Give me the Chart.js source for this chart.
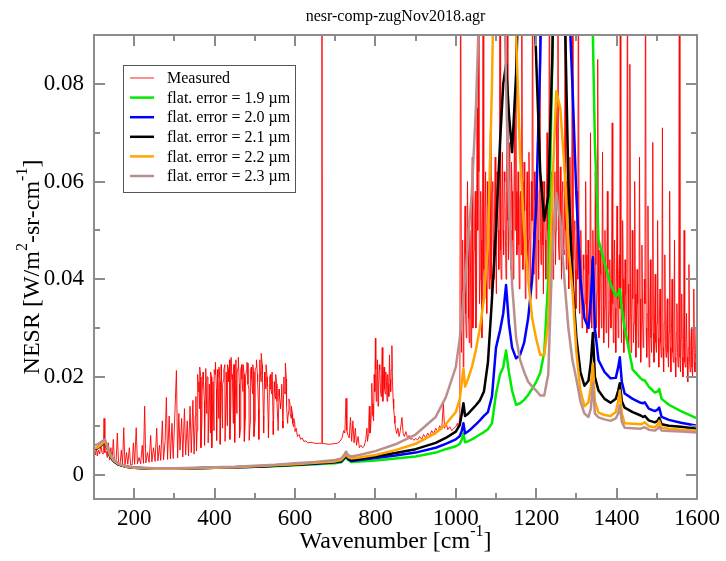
<!DOCTYPE html>
<html>
<head>
<meta charset="utf-8">
<script src="https://cdn.jsdelivr.net/npm/chart.js@4.4.1/dist/chart.umd.min.js"></script>
<style>
  html, body { margin: 0; padding: 0; background: #ffffff; }
  #wrap { width: 726px; height: 561px; }
</style>
</head>
<body>
<div id="wrap"><canvas id="c" width="726" height="561"></canvas></div>
<script>
// ---------------- DATA ----------------
const chartTitle = 'nesr-comp-zugNov2018.agr';
const seriesLabels = ['Measured', 'flat. error = 1.9 µm', 'flat. error = 2.0 µm', 'flat. error = 2.1 µm', 'flat. error = 2.2 µm', 'flat. error = 2.3 µm'];

const xMajorTicks = [200, 400, 600, 800, 1000, 1200, 1400, 1600];
const xTickLabels = ['200', '400', '600', '800', '1000', '1200', '1400', '1600'];
const xMinorTicks = [300, 500, 700, 900, 1100, 1300, 1500];
const yMajorTicks = [0, 0.02, 0.04, 0.06, 0.08];
const yTickLabels = ['0', '0.02', '0.04', '0.06', '0.08'];
const yMinorTicks = [0.01, 0.03, 0.05, 0.07];

// Measured NESR: [wavenumber cm-1, NESR]
const measured = [
[100,0.0045],[103,0.004],[106,0.0055],[108,0.0038],[111,0.005],[114,0.0042],[117,0.006],[120,0.0045],[123,0.0042],[125,0.0115],[127,0.0045],[130,0.0048],[133,0.0035],[136,0.0065],[139,0.003],[142,0.0055],[145,0.0028],[148,0.0072],[151,0.0027],[155,0.0025],[158,0.0085],[161,0.0024],[165,0.0022],[168,0.005],[171,0.0021],[174,0.0096],[177,0.002],[181,0.0045],[184,0.0021],[188,0.0055],[191,0.002],[195,0.002],[198,0.0065],[201,0.0021],[205,0.0096],[208,0.0022],[212,0.0035],[216,0.0022],[220,0.006],[223,0.0023],[226,0.014],[229,0.0024],[233,0.0045],[237,0.0025],[241,0.008],[244,0.0026],[248,0.0055],[252,0.0027],[256,0.0095],[259,0.0028],[263,0.006],[266,0.0029],[270,0.011],[273,0.003],[277,0.007],[280,0.0158],[283,0.0031],[287,0.012],[290,0.0032],[294,0.0105],[297,0.0033],[301,0.012],[305,0.0213],[308,0.0034],[311,0.0125],[314,0.005],[318,0.0115],[321,0.0036],[325,0.0135],[328,0.004],[332,0.011],[335,0.0038],[339,0.014],[342,0.0045],[346,0.0152],[349,0.0042],
[352,0.012],[355,0.0048],[358,0.0205],[361,0.019],[363,0.022],[366,0.0055],[369,0.017],[372,0.0195],[375,0.006],[378,0.0217],[381,0.02],[384,0.0065],[387,0.0185],[390,0.021],[393,0.0055],[396,0.019],[399,0.0215],[402,0.023],[405,0.007],[408,0.02],[411,0.022],[414,0.0062],[417,0.0205],[420,0.0185],[423,0.0215],[426,0.0068],[429,0.021],[432,0.0225],[435,0.019],[438,0.0072],[441,0.024],[444,0.0205],[447,0.0225],[450,0.0066],[453,0.0235],[456,0.021],[459,0.024],[462,0.0075],[465,0.0215],[468,0.0195],[471,0.0225],[474,0.0068],[477,0.02],[480,0.023],[483,0.0185],[486,0.007],[489,0.0215],[492,0.0195],[495,0.0225],[498,0.0078],[501,0.0215],[504,0.0235],[507,0.019],[510,0.0072],[513,0.022],[516,0.0248],[519,0.0205],[522,0.0085],[525,0.019],[528,0.0225],[531,0.018],[534,0.0075],[537,0.02],[540,0.0175],[543,0.021],[546,0.0082],[549,0.017],[552,0.0205],[555,0.015],[558,0.009],[561,0.016],[564,0.0135],[567,0.0185],[570,0.0095],[573,0.017],[576,0.0228],[579,0.014],[582,0.0115],[585,0.0155],[588,0.0125],[591,0.014],[594,0.0105],[597,0.0115],[600,0.0088],[603,0.0095],[606,0.0078],[610,0.0082],[614,0.0072],[618,0.0075],[622,0.0068],[627,0.0069],[632,0.0065],[640,0.0066],[650,0.0064],[660,0.0064],[666,0.0064],[667,0.12],[668,0.0064],
[675,0.0063],[685,0.0062],[695,0.0063],[705,0.0064],[712,0.0068],[717,0.0075],[721,0.009],[724,0.0085],[727,0.0156],[729,0.009],[732,0.008],[735,0.0075],[738,0.0117],[741,0.0068],[744,0.011],[747,0.0065],[750,0.0095],[753,0.006],[757,0.0078],[760,0.0055],[764,0.006],[768,0.0055],[772,0.0058],[776,0.0072],[779,0.0095],[782,0.008],[785,0.014],[788,0.009],[791,0.0187],[794,0.012],[797,0.0205],[800,0.0279],[802,0.015],[805,0.0235],[808,0.018],[811,0.0215],[814,0.016],[817,0.026],[820,0.0195],[823,0.0175],[826,0.021],[829,0.015],[832,0.0185],[835,0.0245],[838,0.017],[841,0.0264],[844,0.0155],[847,0.012],[850,0.0095],[853,0.0084],[856,0.0095],[859,0.0078],[862,0.009],[866,0.0117],[869,0.0085],[872,0.0078],[876,0.0088],[880,0.0075],[884,0.008],[888,0.0072],[892,0.0074],[896,0.007],
[900,0.0074],[905,0.0071],[910,0.0078],[915,0.0072],[920,0.0082],[925,0.0075],[930,0.0085],[935,0.0078],[940,0.009],[945,0.0083],[950,0.0095],[955,0.0088],[960,0.01],[965,0.0092],[969,0.0146],[972,0.0095],[976,0.0105],[980,0.0092],[985,0.0098],[990,0.009],[995,0.0095],[1000,0.0098],[1004,0.0105],[1007,0.0096],
[1010,0.012],[1012,0.12],[1014,0.025],[1017,0.048],[1020,0.03],[1023,0.055],[1026,0.028],[1029,0.06],[1032,0.032],[1035,0.05],[1038,0.026],[1041,0.065],[1044,0.034],[1047,0.052],[1050,0.03],[1053,0.075],[1056,0.12],[1059,0.035],[1062,0.058],[1065,0.028],[1068,0.12],[1071,0.036],[1074,0.062],[1077,0.033],[1080,0.055],[1083,0.038],[1086,0.07],[1089,0.035],[1092,0.06],[1095,0.04],[1098,0.065],[1101,0.037],[1104,0.058],[1107,0.042],[1110,0.12],[1113,0.04],[1116,0.066],[1119,0.045],[1122,0.06],[1125,0.04],[1128,0.12],[1131,0.044],[1134,0.068],[1137,0.042],[1140,0.058],[1143,0.04],[1146,0.072],[1149,0.12],[1152,0.045],[1155,0.062],[1158,0.038],[1161,0.058],[1164,0.12],[1167,0.042],[1170,0.064],[1173,0.036],[1176,0.055],[1179,0.04],[1182,0.066],[1185,0.038],[1188,0.06],[1191,0.12],[1194,0.041],[1197,0.056],[1200,0.036],[1203,0.068],[1206,0.04],[1209,0.12],[1212,0.043],[1215,0.06],[1218,0.037],[1221,0.054],[1224,0.04],[1227,0.07],[1230,0.042],[1233,0.12],[1236,0.045],[1239,0.062],[1242,0.04],[1245,0.058],[1248,0.043],[1251,0.075],[1254,0.12],[1257,0.044],[1260,0.063],[1263,0.04],[1266,0.06],[1269,0.045],[1272,0.12],[1275,0.042],[1278,0.056],[1281,0.038],[1284,0.065],[1287,0.04],[1290,0.12],[1293,0.036],[1296,0.052],[1299,0.034],[1302,0.058],[1305,0.12],[1308,0.033],
[1311,0.05],[1314,0.03],[1317,0.045],[1320,0.032],[1323,0.06],[1326,0.029],[1329,0.048],[1332,0.031],[1335,0.07],[1338,0.03],[1341,0.05],[1344,0.028],[1347,0.062],[1350,0.03],[1353,0.085],[1356,0.028],[1359,0.046],[1362,0.03],[1365,0.066],[1368,0.027],[1371,0.05],[1374,0.029],[1377,0.058],[1380,0.026],[1383,0.044],[1386,0.03],[1389,0.072],[1392,0.027],[1395,0.048],[1398,0.025],[1401,0.055],[1404,0.028],[1407,0.045],[1409,0.12],[1412,0.027],[1415,0.052],[1418,0.025],[1421,0.044],[1424,0.028],[1427,0.12],[1430,0.026],[1433,0.084],[1436,0.025],[1439,0.05],[1442,0.027],[1445,0.06],[1448,0.024],[1451,0.042],[1454,0.026],[1457,0.065],[1460,0.023],[1463,0.047],[1466,0.026],[1469,0.04],[1472,0.12],[1475,0.024],[1478,0.055],[1481,0.022],[1484,0.044],[1487,0.025],[1490,0.068],[1493,0.023],[1496,0.041],[1499,0.025],[1502,0.052],[1505,0.022],[1508,0.038],[1511,0.024],[1514,0.071],[1517,0.021],[1520,0.045],[1523,0.024],[1526,0.036],[1529,0.022],[1532,0.058],[1535,0.021],[1538,0.04],[1541,0.023],[1544,0.048],[1547,0.02],[1550,0.035],[1553,0.022],[1556,0.12],[1559,0.021],[1562,0.037],[1565,0.02],[1568,0.05],[1571,0.022],[1574,0.033],[1577,0.019],[1580,0.043],[1583,0.021],[1586,0.03],[1589,0.02],[1592,0.038],[1595,0.021],[1598,0.03],[1600,0.022]
];

// Additional measured samples read between the ones above in the dense bands
const measuredDense = [
[353.5,0.016],[356.5,0.009],[359.5,0.017],[362.5,0.0135],[365.5,0.02],[368.5,0.011],[371.5,0.021],[374.5,0.015],[377.5,0.019],[380.5,0.0125],[383.5,0.02],[386.5,0.016],[389.5,0.0085],[392.5,0.02],[395.5,0.0165],[398.5,0.009],[401.5,0.0205],[404.5,0.0175],[407.5,0.0215],[410.5,0.0115],[413.5,0.019],[416.5,0.0225],[419.5,0.0095],[422.5,0.0195],[425.5,0.0225],[428.5,0.0165],[431.5,0.01],[434.5,0.0215],[437.5,0.0235],[440.5,0.0145],[443.5,0.0195],[446.5,0.0105],[449.5,0.0225],[452.5,0.0195],[455.5,0.0125],[458.5,0.022],[461.5,0.0185],[464.5,0.0095],[467.5,0.0225],[470.5,0.017],[473.5,0.0205],[476.5,0.0115],[479.5,0.0215],[482.5,0.0228],[485.5,0.0175],[488.5,0.0105],[491.5,0.022],[494.5,0.0165],[497.5,0.021],[500.5,0.011],[503.5,0.022],[506.5,0.0205],[509.5,0.0135],[512.5,0.0235],[515.5,0.019],[518.5,0.0225],[521.5,0.012],[524.5,0.021],[527.5,0.0175],[530.5,0.02],[533.5,0.0105],[536.5,0.0185],[539.5,0.0205],[542.5,0.0165],[545.5,0.011],[548.5,0.019],[551.5,0.0155],[554.5,0.0185],[557.5,0.0105],[560.5,0.0175],[563.5,0.0145],[566.5,0.0165],[569.5,0.011],[572.5,0.02],[575.5,0.0165],[578.5,0.0195],[581.5,0.0105],[584.5,0.013],[587.5,0.0145],[590.5,0.0115],[593.5,0.0125],[596.5,0.0098],[599.5,0.0105],
[780.5,0.0068],[783.5,0.011],[786.5,0.0085],[789.5,0.0125],[792.5,0.0145],[795.5,0.011],[798.5,0.017],[801,0.0215],[803.5,0.0195],[806.5,0.014],[809.5,0.0225],[812.5,0.0175],[815.5,0.0205],[818.5,0.015],[821.5,0.022],[824.5,0.0165],[827.5,0.019],[830.5,0.0205],[833.5,0.016],[836.5,0.0195],[839.5,0.0215],[842.5,0.019],[845.5,0.0135],[848.5,0.0105],
[1015.5,0.038],[1018.5,0.022],[1021.5,0.045],[1024.5,0.033],[1027.5,0.042],[1030.5,0.05],[1033.5,0.027],[1036.5,0.044],[1039.5,0.052],[1042.5,0.03],[1045.5,0.046],[1048.5,0.058],[1051.5,0.036],[1054.5,0.05],[1057.5,0.062],[1060.5,0.04],[1063.5,0.048],[1066.5,0.055],[1069.5,0.042],[1072.5,0.052],[1075.5,0.046],[1078.5,0.06],[1081.5,0.044],[1084.5,0.052],[1087.5,0.04],[1090.5,0.058],[1093.5,0.048],[1096.5,0.055],[1099.5,0.045],[1102.5,0.062],[1105.5,0.05],[1108.5,0.056],[1111.5,0.046],[1114.5,0.054],[1117.5,0.05],[1120.5,0.062],[1123.5,0.048],[1126.5,0.058],[1129.5,0.052],[1132.5,0.06],[1135.5,0.05],[1138.5,0.064],[1141.5,0.048],[1144.5,0.055],[1147.5,0.05],[1150.5,0.058],[1153.5,0.052],[1156.5,0.047],[1159.5,0.056],[1162.5,0.045],[1165.5,0.06],[1168.5,0.05],[1171.5,0.054],[1174.5,0.046],[1177.5,0.062],[1180.5,0.048],[1183.5,0.056],[1186.5,0.045],[1189.5,0.052],[1192.5,0.05],[1195.5,0.062],[1198.5,0.046],[1201.5,0.052],[1204.5,0.048],[1207.5,0.058],[1210.5,0.05],[1213.5,0.054],[1216.5,0.047],[1219.5,0.06],[1222.5,0.048],[1225.5,0.055],[1228.5,0.05],[1231.5,0.058],[1234.5,0.052],[1237.5,0.05],[1240.5,0.056],[1243.5,0.048],[1246.5,0.062],[1249.5,0.05],[1252.5,0.055],[1255.5,0.047],[1258.5,0.056],[1261.5,0.05],[1264.5,0.058],[1267.5,0.046],[1270.5,0.054],[1273.5,0.05],[1276.5,0.06],[1279.5,0.045],[1282.5,0.052],[1285.5,0.048],[1288.5,0.056],[1291.5,0.044],[1294.5,0.05],[1297.5,0.042],[1300.5,0.048],[1303.5,0.04],[1306.5,0.046],[1309.5,0.038],
[1312.5,0.04],[1315.5,0.036],[1318.5,0.042],[1321.5,0.035],[1324.5,0.045],[1327.5,0.038],[1330.5,0.041],[1333.5,0.036],[1336.5,0.044],[1339.5,0.038],[1342.5,0.04],[1345.5,0.034],[1348.5,0.043],[1351.5,0.037],[1354.5,0.046],[1357.5,0.035],[1360.5,0.041],[1363.5,0.038],[1366.5,0.044],[1369.5,0.034],[1372.5,0.04],[1375.5,0.036],[1378.5,0.042],[1381.5,0.033],[1384.5,0.038],[1387.5,0.04],[1390.5,0.035],[1393.5,0.043],[1396.5,0.034],[1399.5,0.039],[1402.5,0.036],[1405.5,0.041],[1408,0.034],[1410.5,0.038],[1413.5,0.035],[1416.5,0.04],[1419.5,0.033],[1422.5,0.037],[1425.5,0.034],[1428.5,0.039],[1431.5,0.032],[1434.5,0.038],[1437.5,0.033],[1440.5,0.036],[1443.5,0.031],[1446.5,0.037],[1449.5,0.032],[1452.5,0.035],[1455.5,0.03],[1458.5,0.036],[1461.5,0.031],[1464.5,0.034],[1467.5,0.029],[1470.5,0.035],[1473.5,0.03],[1476.5,0.033],[1479.5,0.029],[1482.5,0.034],[1485.5,0.028],[1488.5,0.032],[1491.5,0.029],[1494.5,0.033],[1497.5,0.027],[1500.5,0.031],[1503.5,0.028],[1506.5,0.032],[1509.5,0.027],[1512.5,0.03],[1515.5,0.026],[1518.5,0.031],[1521.5,0.027],[1524.5,0.03],[1527.5,0.025],[1530.5,0.029],[1533.5,0.026],[1536.5,0.03],[1539.5,0.025],[1542.5,0.028],[1545.5,0.024],[1548.5,0.029],[1551.5,0.025],[1554.5,0.027],[1557.5,0.024],[1560.5,0.028],[1563.5,0.024],[1566.5,0.027],[1569.5,0.023],[1572.5,0.027],[1575.5,0.024],[1578.5,0.026],[1581.5,0.023],[1584.5,0.027],[1587.5,0.022],[1590.5,0.026],[1593.5,0.023],[1596.5,0.025],[1599,0.023]
];

// Simulated NESR for different flatness errors, on a shared wavenumber grid
const modelWn = [100,110,120,127,133,140,150,160,180,200,250,300,350,400,450,500,550,600,650,700,715,722,727,732,740,760,800,850,900,950,975,1000,1010,1015,1019,1023,1030,1040,1050,1060,1070,1080,1090,1100,1110,1118,1125,1132,1140,1150,1160,1170,1180,1190,1200,1210,1220,1230,1240,1250,1260,1270,1280,1290,1300,1310,1320,1330,1336,1341,1346,1355,1370,1385,1398,1404,1408,1413,1420,1440,1460,1466,1470,1480,1495,1502,1506,1512,1530,1560,1600];

const nesr19 = [0.0052,0.0055,0.0062,0.0068,0.0055,0.0038,0.0027,0.0021,0.0016,0.0014,0.0012,0.0012,0.0013,0.0014,0.0015,0.0016,0.0017,0.0019,0.0021,0.0023,0.0025,0.0031,0.0036,0.003,0.0026,0.0027,0.0029,0.0033,0.0037,0.0045,0.0052,0.0058,0.0063,0.0072,0.0084,0.0066,0.0068,0.0072,0.0077,0.0082,0.0087,0.0093,0.0105,0.0165,0.0205,0.022,0.0254,0.021,0.0172,0.0143,0.0146,0.0153,0.0163,0.0176,0.019,0.0208,0.025,0.04,0.085,0.14,0.2,0.25,0.25,0.25,0.25,0.25,0.22,0.16,0.13,0.09,0.068,0.048,0.0433,0.039,0.0365,0.037,0.038,0.034,0.03,0.0215,0.0197,0.0193,0.0193,0.018,0.0168,0.017,0.0175,0.0155,0.0143,0.013,0.0115];

const nesr20 = [0.0052,0.0055,0.0062,0.0068,0.0055,0.0038,0.0027,0.0021,0.0016,0.0014,0.0012,0.0012,0.0013,0.0014,0.0015,0.0016,0.0018,0.002,0.0022,0.0025,0.0027,0.0033,0.0038,0.0032,0.0028,0.003,0.0034,0.0039,0.0045,0.0055,0.0063,0.0072,0.0079,0.009,0.0105,0.0084,0.0088,0.0095,0.0103,0.0111,0.012,0.0128,0.016,0.026,0.0295,0.033,0.0388,0.031,0.026,0.0238,0.0245,0.027,0.032,0.04,0.055,0.085,0.13,0.25,0.25,0.25,0.25,0.15,0.1,0.08,0.057,0.04,0.032,0.03,0.036,0.0445,0.03,0.0234,0.021,0.0197,0.0198,0.022,0.024,0.019,0.0166,0.0155,0.0147,0.0146,0.0148,0.0135,0.013,0.0133,0.0137,0.0118,0.0112,0.0106,0.01];

const nesr21 = [0.0052,0.0055,0.0062,0.0068,0.0055,0.0038,0.0027,0.0021,0.0016,0.0014,0.0012,0.0012,0.0013,0.0014,0.0015,0.0016,0.0018,0.002,0.0023,0.0026,0.0028,0.0034,0.004,0.0034,0.003,0.0032,0.0037,0.0044,0.0052,0.0065,0.0075,0.0088,0.0102,0.0125,0.0146,0.012,0.0124,0.0133,0.0142,0.0152,0.017,0.023,0.036,0.05,0.068,0.08,0.084,0.074,0.066,0.082,0.11,0.15,0.15,0.11,0.085,0.062,0.052,0.057,0.085,0.13,0.15,0.1,0.06,0.04,0.028,0.021,0.0182,0.0192,0.023,0.029,0.02,0.0172,0.0155,0.0147,0.0155,0.0172,0.0187,0.015,0.0137,0.0128,0.0121,0.0118,0.012,0.0111,0.0107,0.011,0.0116,0.0103,0.01,0.0098,0.0094];

const nesr22 = [0.0053,0.0056,0.0063,0.0069,0.0056,0.0039,0.0028,0.0022,0.0016,0.0014,0.0012,0.0012,0.0013,0.0014,0.0015,0.0017,0.0019,0.0021,0.0024,0.0027,0.003,0.0036,0.0042,0.0036,0.0033,0.0035,0.004,0.005,0.0063,0.0085,0.0103,0.0128,0.0155,0.019,0.0217,0.018,0.0195,0.022,0.0255,0.03,0.036,0.047,0.08,0.13,0.2,0.22,0.22,0.2,0.14,0.09,0.065,0.05,0.04,0.032,0.0278,0.0245,0.0245,0.031,0.058,0.0785,0.075,0.063,0.047,0.038,0.025,0.0172,0.014,0.0148,0.018,0.0228,0.015,0.0127,0.0122,0.012,0.0128,0.015,0.0172,0.0125,0.0105,0.0104,0.0103,0.0105,0.0107,0.0099,0.0097,0.0102,0.011,0.0096,0.0094,0.0092,0.009];

const nesr23 = [0.006,0.0062,0.0068,0.0072,0.006,0.0042,0.003,0.0023,0.0017,0.0015,0.0013,0.0013,0.0014,0.0015,0.0016,0.0018,0.002,0.0023,0.0026,0.003,0.0033,0.004,0.0047,0.004,0.0037,0.004,0.0048,0.0062,0.0082,0.0118,0.0158,0.022,0.028,0.032,0.036,0.04,0.047,0.058,0.075,0.1,0.14,0.2,0.25,0.22,0.15,0.11,0.08,0.056,0.039,0.028,0.0235,0.021,0.019,0.018,0.0172,0.0162,0.0162,0.0205,0.045,0.0576,0.052,0.04,0.03,0.0235,0.0195,0.015,0.0125,0.0118,0.0135,0.0187,0.0125,0.0117,0.0113,0.011,0.0115,0.0125,0.0142,0.0108,0.0096,0.0095,0.0094,0.0096,0.0097,0.0092,0.009,0.0094,0.0098,0.009,0.0089,0.0088,0.0086];

// ---------------- STYLE ----------------
const serif = "'Liberation Serif', 'Times New Roman', serif";
const colors = ['rgba(255,0,0,0.9)', 'rgb(0,235,0)', 'rgb(0,0,255)', 'rgb(0,0,0)', 'rgb(255,165,0)', 'rgb(188,143,143)'];
const legendColors = ['rgba(255,90,90,0.9)', 'rgb(0,235,0)', 'rgb(0,0,255)', 'rgb(0,0,0)', 'rgb(255,165,0)', 'rgb(188,143,143)'];
const widths = [1, 2.5, 2.5, 2.5, 2.5, 2.5];

const modelSeries = [nesr19, nesr20, nesr21, nesr22, nesr23];
const measuredAll = measured.concat(measuredDense).sort((a, b) => a[0] - b[0]);

const datasets = [{
  label: seriesLabels[0],
  data: measuredAll.map(p => ({ x: p[0], y: p[1] })),
  borderColor: colors[0], borderWidth: widths[0], pointRadius: 0, fill: false, order: 6
}].concat(modelSeries.map((arr, k) => ({
  label: seriesLabels[k + 1],
  data: modelWn.map((w, i) => ({ x: w, y: arr[i] })),
  borderColor: colors[k + 1], borderWidth: widths[k + 1], pointRadius: 0, fill: false,
  order: 5 - k, borderJoinStyle: 'round', borderCapStyle: 'round'
})));

function drawParts(ctx, parts, x, y) {
  // parts: [text, isSuperscript]
  const mainFont = '24px ' + serif, supFont = '16px ' + serif;
  let total = 0;
  parts.forEach(p => { ctx.font = p[1] ? supFont : mainFont; total += ctx.measureText(p[0]).width; });
  let cx = x - total / 2;
  ctx.textAlign = 'left'; ctx.textBaseline = 'alphabetic';
  parts.forEach(p => {
    ctx.font = p[1] ? supFont : mainFont;
    ctx.fillText(p[0], cx, p[1] ? y - 12 : y);
    cx += ctx.measureText(p[0]).width;
  });
}

const decor = {
  id: 'decor',
  afterDatasetsDraw(chart) {
    const { ctx, chartArea: a, scales } = chart;
    const xs = scales.x, ys = scales.y;
    ctx.save();
    ctx.strokeStyle = '#8c8c8c';
    ctx.lineWidth = 2;
    const seg = (x1, y1, x2, y2) => { ctx.beginPath(); ctx.moveTo(x1, y1); ctx.lineTo(x2, y2); ctx.stroke(); };
    const xt = (v, len) => { const p = Math.round(xs.getPixelForValue(v)); seg(p, a.bottom, p, a.bottom - len); seg(p, a.top, p, a.top + len); };
    const yt = (v, len) => { const p = Math.round(ys.getPixelForValue(v)); seg(a.left, p, a.left + len, p); seg(a.right, p, a.right - len, p); };
    xMajorTicks.forEach(v => xt(v, 11));
    xMinorTicks.forEach(v => xt(v, 6));
    yMajorTicks.forEach(v => yt(v, 11));
    yMinorTicks.forEach(v => yt(v, 6));
    ctx.strokeRect(a.left, a.top, a.right - a.left, a.bottom - a.top);

    // legend
    const lx = a.left + 29, ly = a.top + 30, lw = 172, lh = 127;
    ctx.fillStyle = '#ffffff';
    ctx.fillRect(lx, ly, lw, lh);
    ctx.strokeStyle = '#555555';
    ctx.lineWidth = 1;
    ctx.strokeRect(lx + 0.5, ly + 0.5, lw, lh);
    ctx.font = '16px ' + serif;
    ctx.textBaseline = 'middle';
    ctx.textAlign = 'left';
    chart.data.datasets.forEach((ds, i) => {
      const yy = ly + 13 + i * 19.6;
      ctx.strokeStyle = legendColors[i];
      ctx.lineWidth = i === 0 ? 1.5 : 2.5;
      seg(lx + 7, yy, lx + 31, yy);
      ctx.fillStyle = '#000000';
      ctx.fillText(ds.label, lx + 44, yy + 1);
    });

    // chart title
    ctx.fillStyle = '#000000';
    ctx.font = '16px ' + serif;
    ctx.textAlign = 'center';
    ctx.textBaseline = 'alphabetic';
    ctx.fillText(chartTitle, (a.left + a.right) / 2, 21);

    // x axis title
    drawParts(ctx, [['Wavenumber [cm', false], ['-1', true], [']', false]], (a.left + a.right) / 2, 548);

    // y axis title
    ctx.save();
    ctx.translate(39, (a.top + a.bottom) / 2);
    ctx.rotate(-Math.PI / 2);
    drawParts(ctx, [['NESR [W/m', false], ['2', true], ['-sr-cm', false], ['-1', true], [']', false]], 0, 0);
    ctx.restore();
    ctx.restore();
  }
};

new Chart(document.getElementById('c'), {
  type: 'line',
  data: { datasets },
  options: {
    responsive: false,
    animation: false,
    devicePixelRatio: 1,
    layout: { padding: { left: 0, top: 35, right: 26, bottom: 0 } },
    plugins: { legend: { display: false }, title: { display: false }, tooltip: { enabled: false } },
    elements: { point: { radius: 0 }, line: { tension: 0 } },
    scales: {
      x: {
        type: 'linear', min: 100, max: 1600,
        grid: { display: false, drawTicks: false },
        border: { display: false },
        afterBuildTicks: s => { s.ticks = xMajorTicks.map(v => ({ value: v })); },
        afterFit: s => { s.height = 62; },
        ticks: { autoSkip: false, maxRotation: 0, padding: 6, color: '#000', font: { family: serif, size: 23 },
          callback: (v, i) => xTickLabels[i] }
      },
      y: {
        type: 'linear', min: -0.005, max: 0.09,
        grid: { display: false, drawTicks: false },
        border: { display: false },
        afterBuildTicks: s => { s.ticks = yMajorTicks.map(v => ({ value: v })); },
        afterFit: s => { s.width = 94; },
        ticks: { autoSkip: false, padding: 10, color: '#000', font: { family: serif, size: 23 },
          callback: (v, i) => yTickLabels[i] }
      }
    }
  },
  plugins: [decor]
});
</script>
</body>
</html>
